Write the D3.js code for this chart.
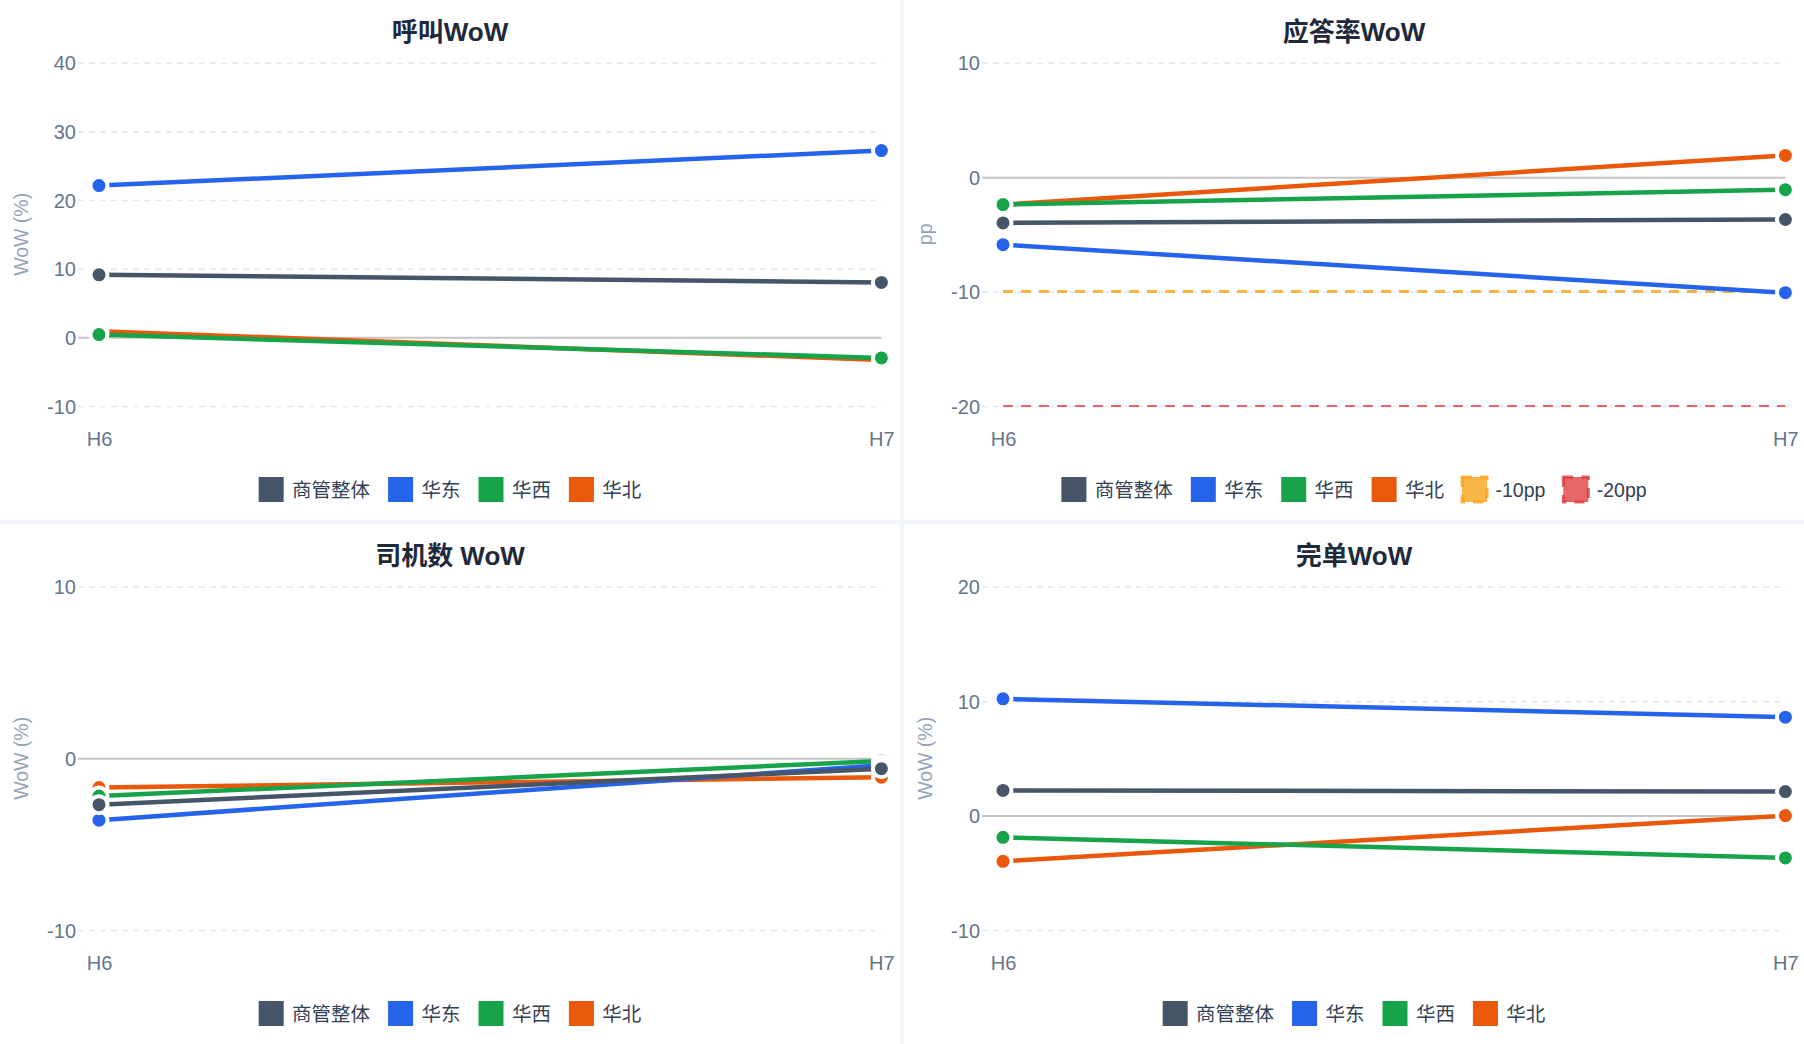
<!DOCTYPE html>
<html>
<head>
<meta charset="utf-8">
<script src="https://cdn.jsdelivr.net/npm/d3@7"></script>
<style>
  html, body { margin: 0; padding: 0; background: #f1f5f9; }
  svg { display: block; }
  text { font-family: "Liberation Sans", Arial, "Noto Sans CJK SC", sans-serif; }
</style>
</head>
<body>
<svg id="chart" width="1804" height="1044"></svg>
<script>
// ---------------- data ----------------
const categories = ["H6", "H7"];
const seriesNames = ["商管整体", "华东", "华西", "华北"];
const seriesColors = ["#475569", "#2563eb", "#16a34a", "#ea580c"];

const panelTitles = ["呼叫WoW", "应答率WoW", "司机数 WoW", "完单WoW"];
const yTitles = ["WoW (%)", "pp", "WoW (%)", "WoW (%)"];
const yDomains = [[-10, 40], [-20, 10], [-10, 10], [-10, 20]];
const yTicks = [[-10, 0, 10, 20, 30, 40], [-20, -10, 0, 10], [-10, 0, 10], [-10, 0, 10, 20]];

// values per series: [H6, H7]
const callValues   = [[9.1, 8.0], [22.1, 27.2], [0.4, -3.0], [0.9, -3.3]];
const answerValues = [[-4.0, -3.7], [-5.9, -10.1], [-2.4, -1.1], [-2.4, 1.9]];
const driverValues = [[-2.7, -0.6], [-3.6, -0.4], [-2.2, -0.15], [-1.7, -1.1]];
const orderValues  = [[2.2, 2.1], [10.2, 8.6], [-1.9, -3.7], [-4.0, 0.0]];

const thresholdNames = ["-10pp", "-20pp"];
const thresholdValues = [-10, -20];
const thresholdColors = ["rgba(245,158,11,0.75)", "rgba(220,38,38,0.7)"];
const thresholdWidths = [3, 2];

const panelValues = [callValues, answerValues, driverValues, orderValues];

// ---------------- layout ----------------
const svg = d3.select("#chart");
const panelW = 900, panelH = 520;
const panelPos = [[0, 0], [904, 0], [0, 524], [904, 524]];
const plotL = 99, plotR = 881.4, plotT = 62.7, plotB = 406;
const gridL = 78;
const tickFont = 20, legendFont = 19.5;

panelPos.forEach((pos, pi) => {
  const g = svg.append("g").attr("transform", `translate(${pos[0]},${pos[1]})`);
  g.append("rect").attr("width", panelW).attr("height", pi < 2 ? 519.5 : panelH).attr("fill", "#ffffff");

  const x = d3.scalePoint().domain(categories).range([plotL, plotR]).padding(0);
  const y = d3.scaleLinear().domain(yDomains[pi]).range([plotB, plotT]);

  // title
  g.append("text").attr("x", panelW / 2).attr("y", 31.5)
    .attr("text-anchor", "middle").attr("dominant-baseline", "central")
    .attr("font-size", 26).attr("font-weight", "bold").attr("fill", "#1e293b")
    .text(panelTitles[pi]);

  // y axis with grid
  const yAxis = d3.axisLeft(y).tickValues(yTicks[pi]).tickSize(-(plotR - gridL)).tickPadding(2)
    .tickFormat(d => String(d));
  const ya = g.append("g").attr("transform", `translate(${gridL},0)`).call(yAxis);
  ya.select(".domain").remove();
  ya.selectAll(".tick line")
    .attr("stroke", d => d === 0 ? "#c4c4c4" : "#e2e8f0")
    .attr("stroke-width", d => d === 0 ? 2 : 1.6)
    .attr("stroke-dasharray", d => d === 0 ? null : "6,5");
  ya.selectAll(".tick text")
    .attr("font-size", tickFont).attr("fill", "#64748b")
    .attr("font-family", "'Liberation Sans', Arial, sans-serif")
    .attr("dy", null).attr("dominant-baseline", "central");

  // y title
  g.append("text")
    .attr("transform", `translate(21,${(plotT + plotB) / 2}) rotate(-90)`)
    .attr("text-anchor", "middle").attr("dominant-baseline", "central")
    .attr("font-size", 19.5).attr("fill", "#94a3b8")
    .text(yTitles[pi]);

  // x axis labels
  const xAxis = d3.axisBottom(x).tickSize(0).tickPadding(0);
  const xa = g.append("g").attr("transform", `translate(0,439)`).call(xAxis);
  xa.select(".domain").remove();
  xa.selectAll(".tick text")
    .attr("font-size", tickFont).attr("fill", "#64748b")
    .attr("font-family", "'Liberation Sans', Arial, sans-serif")
    .attr("dy", null).attr("y", 0).attr("dominant-baseline", "central");

  const line = d3.line().x((d, i) => x(categories[i])).y(d => y(d));

  // thresholds (drawn below series)
  if (pi === 1) {
    for (let t = thresholdValues.length - 1; t >= 0; t--) {
      g.append("path")
        .attr("d", line(categories.map(() => thresholdValues[t])))
        .attr("fill", "none")
        .attr("stroke", thresholdColors[t])
        .attr("stroke-width", thresholdWidths[t])
        .attr("stroke-dasharray", "10,8");
    }
  }

  // series, reverse order so first dataset is on top
  const vals = panelValues[pi];
  for (let s = vals.length - 1; s >= 0; s--) {
    g.append("path")
      .attr("d", line(vals[s]))
      .attr("fill", "none")
      .attr("stroke", seriesColors[s])
      .attr("stroke-width", 4.5);
    g.selectAll(null).data(vals[s]).enter().append("circle")
      .attr("cx", (d, i) => x(categories[i]))
      .attr("cy", d => y(d))
      .attr("r", 8.5)
      .attr("fill", seriesColors[s])
      .attr("stroke", "#ffffff")
      .attr("stroke-width", 4);
  }

  // legend
  const items = seriesNames.map((n, i) => ({ name: n, fill: seriesColors[i], stroke: seriesColors[i], dash: null }));
  if (pi === 1) {
    thresholdNames.forEach((n, i) => items.push({ name: n, fill: thresholdColors[i], stroke: thresholdColors[i], dash: "10,8" }));
  }
  const lg = g.append("g");
  const boxS = 25, boxGap = 8.4, itemGap = 18;
  let cx = 0;
  items.forEach(it => {
    const ig = lg.append("g").attr("transform", `translate(${cx},0)`);
    ig.append("rect").attr("x", 0).attr("y", -boxS / 2).attr("width", boxS).attr("height", boxS)
      .attr("fill", it.fill)
      .attr("stroke", it.dash ? it.stroke : "none")
      .attr("stroke-width", it.dash ? 3 : 0)
      .attr("stroke-dasharray", it.dash);
    const tx = ig.append("text").attr("x", boxS + boxGap).attr("y", 0)
      .attr("dominant-baseline", "central")
      .attr("font-size", legendFont).attr("fill", "#334155")
      .text(it.name);
    const w = tx.node().getComputedTextLength();
    cx += boxS + boxGap + w + itemGap;
  });
  const totalW = cx - itemGap;
  lg.attr("transform", `translate(${panelW / 2 - totalW / 2},489.5)`);
});
</script>
</body>
</html>
